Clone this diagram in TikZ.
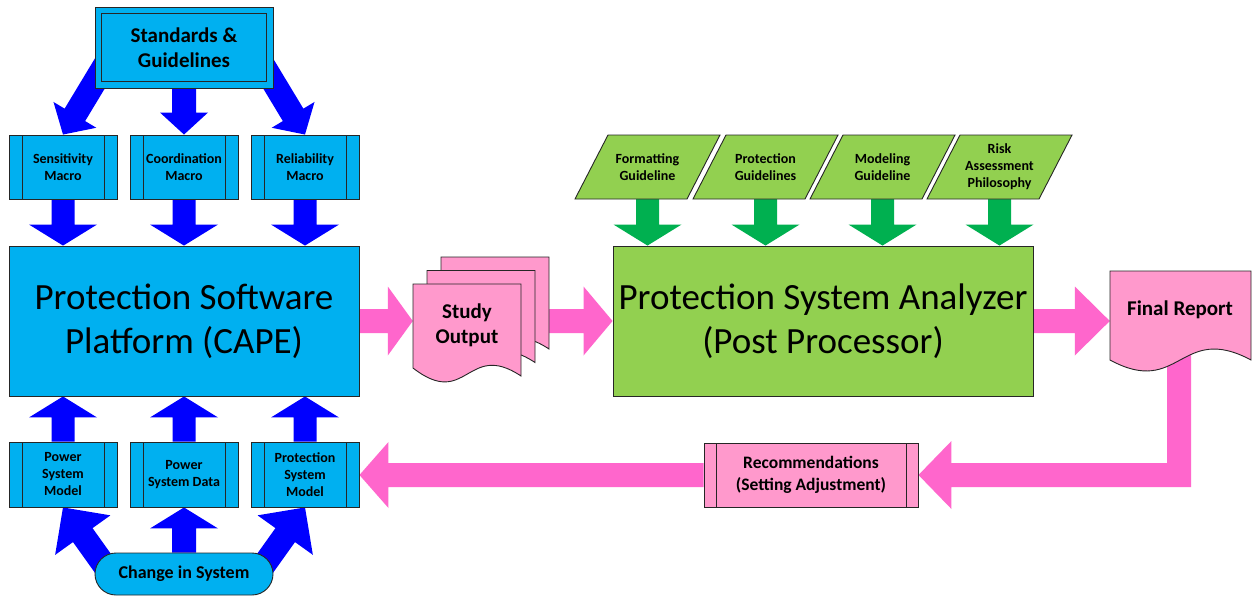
\documentclass[tikz,border=0pt]{standalone}
\usepackage{fontspec}
\setmainfont{Carlito}
\usetikzlibrary{calc}
\pgfdeclarelayer{bg}
\pgfsetlayers{bg,main}
\definecolor{boxblue}{HTML}{00B0F0}
\definecolor{arrblue}{HTML}{0000FF}
\definecolor{boxgreen}{HTML}{92D050}
\definecolor{arrgreen}{HTML}{00B050}
\definecolor{boxpink}{HTML}{FF99CC}
\definecolor{arrpink}{HTML}{FF66CC}
\definecolor{edgec}{HTML}{262626}

\newcommand\myarrow[6]{%
  \coordinate (bA) at (#2); \coordinate (bB) at (#3);
  \coordinate (bC) at ($(bB)!#6!(bA)$);
  \fill[#1] ($(bA)!#4!90:(bB)$) -- ($(bC)!#4!90:(bB)$) -- ($(bC)!#5!90:(bB)$) -- (bB)
    -- ($(bC)!#5!-90:(bB)$) -- ($(bC)!#4!-90:(bB)$) -- ($(bA)!#4!-90:(bB)$) -- cycle;}

\tikzset{
  base/.style={draw=edgec, line width=0.9pt, inner sep=0pt, align=center},
  bbox/.style={base, fill=boxblue},
  procbox/.style={path picture={\draw[edgec, line width=0.9pt]
     ([xshift=#1]path picture bounding box.north west) -- ([xshift=#1]path picture bounding box.south west)
     ([xshift=-#1]path picture bounding box.north east) -- ([xshift=-#1]path picture bounding box.south east);}},
  procbox/.default=13pt,
  smallf/.style={font=\fontsize{14}{17}\selectfont\bfseries},
  bigf/.style={font=\fontsize{37}{44}\selectfont},
  midf/.style={font=\fontsize{21}{25}\selectfont\bfseries},
  txt/.style={inner sep=0pt, align=center},
}

\begin{document}
\begin{tikzpicture}[x=1pt, y=-1pt]
\useasboundingbox (0,0) rectangle (1252,597);

% ---- left column ----
\node[bbox, minimum width=178pt, minimum height=81pt, midf] (std) at (184,47.5) {Standards \&\\Guidelines};
\draw[edgec, line width=0.9pt] ([shift={(7pt,-7pt)}]std.north west) rectangle ([shift={(-7pt,7pt)}]std.south east);

\node[bbox, procbox, minimum width=108pt, minimum height=64pt, smallf] (sens) at (63,167) {Sensitivity\\Macro};
\node[bbox, procbox, minimum width=108pt, minimum height=64pt, smallf] (coord) at (184,167) {Coordination\\Macro};
\node[bbox, procbox, minimum width=108pt, minimum height=64pt, smallf] (rel) at (305,167) {Reliability\\Macro};

\node[bbox, minimum width=350pt, minimum height=150pt, bigf] (cape) at (184,321) {Protection Software\\Platform (CAPE)};

\node[bbox, procbox, minimum width=108pt, minimum height=65pt, smallf] (psm) at (63,474.5) {Power\\System\\Model};
\node[bbox, procbox, minimum width=108pt, minimum height=65pt, smallf] (psd) at (184,474.5) {Power\\System Data};
\node[bbox, procbox, minimum width=108pt, minimum height=65pt, smallf] (prm) at (305,474.5) {Protection\\System\\Model};

\node[bbox, rounded corners=21pt, minimum width=178pt, minimum height=42pt, font=\fontsize{18}{20}\selectfont\bfseries] (chg) at (184,574) {Change in System};

% ---- study output ----
\foreach \dx/\dy in {28/-27, 14/-13.5, 0/0} {
  \draw[base, fill=boxpink] ({413+\dx},{284+\dy}) -- ({521+\dx},{284+\dy}) -- ({521+\dx},{376+\dy})
     .. controls ({467+\dx},{340+\dy}) and ({467+\dx},{410+\dy}) .. ({413+\dx},{368+\dy}) -- cycle;
}
\node[txt, midf, minimum width=108pt, minimum height=84pt] (study) at (467,325.5) {Study\\Output};

% ---- analyzer ----
\node[base, fill=boxgreen, minimum width=420pt, minimum height=150pt, bigf] (psa) at (823,321) {Protection System Analyzer\\(Post Processor)};

\foreach \x/\n/\t in {575/fg/{Formatting\\Guideline}, 693/pg/{Protection\\Guidelines}, 810/mg/{Modeling\\Guideline}, 927/rg/{Risk\\Assessment\\Philosophy}} {
  \draw[base, fill=boxgreen] (\x,199) -- ({\x+112},199) -- ({\x+145},135) -- ({\x+33},135) -- cycle;
  \node[txt, smallf, minimum height=64pt] (\n) at ({\x+72.5},167) {\t};
}

% ---- final report ----
\draw[base, fill=boxpink] (1110,271) -- (1251,271) -- (1251,360)
   .. controls (1180,322) and (1180,398) .. (1110,360) -- cycle;
\node[txt, minimum width=141pt, minimum height=89pt] (fr) at (1180.5,315.5) {};
\node[txt, midf] (frt) at (1180,310) {Final Report};
\coordinate (frb) at (1179,352);

% ---- recommendations ----
\node[base, fill=boxpink, procbox=12pt, minimum width=214pt, minimum height=64pt, font=\fontsize{17.5}{22}\selectfont\bfseries] (rec) at (811,475) {Recommendations\\(Setting Adjustment)};

% ---- arrows ----
\begin{pgfonlayer}{bg}
\fill[white] (0,0) rectangle (1252,597);
\myarrow{arrblue}{111,55}{sens.north}{12pt}{25pt}{23pt}
\myarrow{arrblue}{std.south}{coord.north}{12pt}{24pt}{22pt}
\myarrow{arrblue}{257,55}{rel.north}{12pt}{25pt}{23pt}
\foreach \n in {sens,coord,rel} {\myarrow{arrblue}{\n.south}{\n.south |- cape.north}{11.5pt}{34pt}{21pt}}
\foreach \n in {psm,psd,prm} {\myarrow{arrblue}{\n.north}{\n.north |- cape.south}{11.5pt}{34pt}{21pt}}
\myarrow{arrblue}{chg.north}{psd.south}{12pt}{34pt}{21pt}
\myarrow{arrblue}{112,576}{psm.south}{12pt}{34pt}{34pt}
\myarrow{arrblue}{256,576}{prm.south}{12pt}{34pt}{34pt}
\foreach \n in {fg,pg,mg,rg} {\myarrow{arrgreen}{\n.south}{\n.south |- psa.north}{11.5pt}{34pt}{21pt}}
\myarrow{arrpink}{cape.east}{cape.east -| study.west}{12pt}{34.5pt}{25pt}
\myarrow{arrpink}{545,321}{psa.west}{12pt}{34.5pt}{29pt}
\myarrow{arrpink}{psa.east}{psa.east -| fr.west}{12pt}{34.5pt}{35pt}
\myarrow{arrpink}{rec.west}{rec.west -| prm.east}{12pt}{33pt}{29pt}
\fill[arrpink] (rec.east) -- ++(33,-34) -- ++(0,22) -- ($(frb|-rec.east)+(-12,-12)$) -- ($(frb)+(-12,0)$)
   -- ($(frb)+(12,0)$) -- ($(frb|-rec.east)+(12,12)$) -- ($(rec.east)+(33,12)$) -- ++(0,22) -- cycle;
\end{pgfonlayer}
\end{tikzpicture}
\end{document}
